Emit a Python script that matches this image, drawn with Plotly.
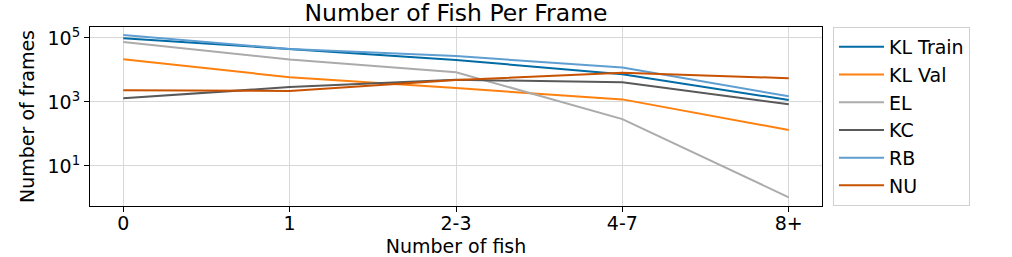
import plotly.graph_objects as go

categories = ["0", "1", "2-3", "4-7", "8+"]
kl_train = [98000, 44000, 20500, 7300, 1150]
kl_val = [21500, 5900, 2700, 1200, 133]
el = [74000, 21000, 8500, 290, 1.05]
kc = [1300, 2900, 4900, 4100, 850]
rb = [124000, 45000, 27000, 11800, 1500]
nu = [2300, 2200, 4800, 8200, 5500]

series_names = ["KL Train", "KL Val", "EL", "KC", "RB", "NU"]
series_values = [kl_train, kl_val, el, kc, rb, nu]
series_colors = ["#006ba4", "#ff800e", "#ababab", "#595959", "#5f9ed1", "#c85200"]

y_tick_vals = [10, 1000, 100000]
y_tick_text = ["10<sup>1</sup>", "10<sup>3</sup>", "10<sup>5</sup>"]

FONT = "DejaVu Sans"

fig = go.Figure()
for name, vals, col in zip(series_names, series_values, series_colors):
    fig.add_trace(go.Scatter(
        x=list(range(len(categories))), y=vals, mode="lines", name=name,
        line=dict(color=col, width=2),
    ))

fig.update_layout(
    width=1012, height=257,
    margin=dict(l=90, r=190, t=27, b=51, autoexpand=False),
    paper_bgcolor="white", plot_bgcolor="white",
    font=dict(family=FONT, size=19, color="black"),
    title=dict(text="Number of Fish Per Frame", x=0.4506, xanchor="center",
               y=1 - 13 / 257, yanchor="middle", font=dict(size=23.5, family=FONT)),
    showlegend=True,
    legend=dict(x=1.015, y=1, xanchor="left", yanchor="top",
                bordercolor="#d0d0d0", borderwidth=1, font=dict(size=19),
                tracegroupgap=0, itemwidth=45),
)
fig.update_xaxes(
    tickmode="array", tickvals=list(range(len(categories))), ticktext=categories,
    range=[-0.2, 4.2], showgrid=True, gridcolor="#d8d8d8", gridwidth=1,
    showline=True, linecolor="black", linewidth=1, mirror=True,
    ticks="outside", ticklen=5, tickcolor="black", zeroline=False,
    automargin=False, ticklabelstandoff=-5,
    title=dict(text="Number of fish", standoff=10, font=dict(size=19)),
)
fig.update_yaxes(
    type="log", range=[-0.25, 5.34], tickmode="array", tickvals=y_tick_vals,
    ticktext=y_tick_text, showgrid=True, gridcolor="#d8d8d8", gridwidth=1,
    showline=True, linecolor="black", linewidth=1, mirror=True,
    ticks="outside", ticklen=5, tickcolor="black", zeroline=False,
    automargin=False,
    title=dict(text="Number of frames", standoff=7, font=dict(size=19)),
)

fig.write_html("out.html", config={"displayModeBar": False},
               post_script="document.body.style.margin='0';")
